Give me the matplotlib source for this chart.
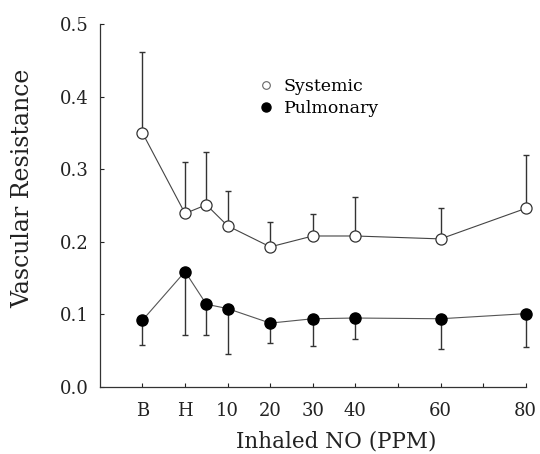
import matplotlib
matplotlib.use('Agg')
import matplotlib.pyplot as plt
from matplotlib.lines import Line2D

plt.rcParams['font.family'] = ['DejaVu Serif']

# x positions: B=-10, H=0, then ppm
x_vals = [-10, 0, 5, 10, 20, 30, 40, 60, 80]
systemic = [0.350, 0.239, 0.251, 0.222, 0.193, 0.208, 0.208, 0.204, 0.246]
systemic_top = [0.461, 0.310, 0.324, 0.270, 0.227, 0.238, 0.262, 0.246, 0.320]
pulmonary = [0.092, 0.159, 0.114, 0.108, 0.088, 0.094, 0.095, 0.094, 0.101]
pulmonary_low = [0.058, 0.072, 0.072, 0.045, 0.061, 0.056, 0.066, 0.053, 0.055]

tick_pos = [-10, 0, 10, 20, 30, 40, 50, 60, 70, 80]
tick_lab = ['B', 'H', '10', '20', '30', '40', '', '60', '', '80']
y_ticks = [0.0, 0.1, 0.2, 0.3, 0.4, 0.5]

fig = plt.figure(figsize=(5.4, 4.54), dpi=100)
ax = fig.add_axes([0.185, 0.1476, 0.7885, 0.7995])

sys_up = [t - v for t, v in zip(systemic_top, systemic)]
pul_dn = [v - b for v, b in zip(pulmonary, pulmonary_low)]

ax.errorbar(x_vals, systemic, yerr=[[0] * len(sys_up), sys_up], fmt='none',
            ecolor='#333333', elinewidth=1.0, capsize=2, capthick=1.0, clip_on=False)
ax.errorbar(x_vals, pulmonary, yerr=[pul_dn, [0] * len(pul_dn)], fmt='none',
            ecolor='#333333', elinewidth=1.0, capsize=2, capthick=1.0, clip_on=False)

ax.plot(x_vals, systemic, '-', color='#444444', lw=0.8, marker='o', ms=8,
        mfc='white', mec='#333333', mew=0.9, clip_on=False, zorder=3)
ax.plot(x_vals, pulmonary, '-', color='#555555', lw=0.8, marker='o', ms=8,
        mfc='black', mec='black', clip_on=False, zorder=3)

ax.set_xlim(-20, 80)
ax.set_ylim(0, 0.5)
ax.set_xticks(tick_pos)
ax.set_xticklabels(tick_lab)
ax.set_yticks(y_ticks)
ax.set_yticklabels(['%.1f' % v for v in y_ticks])
ax.tick_params(direction='in', length=3, width=0.8, labelsize=13, colors='#222222')
ax.tick_params(axis='y', pad=8)
ax.tick_params(axis='x', pad=11)

for s in ['top', 'right']:
    ax.spines[s].set_visible(False)
for s in ['left', 'bottom']:
    ax.spines[s].set_linewidth(0.9)
    ax.spines[s].set_color('#333333')

ax.set_ylabel('Vascular Resistance', fontsize=17, color='#222222')
ax.yaxis.set_label_coords(-0.155, 0.548)
ax.set_xlabel('Inhaled NO (PPM)', fontsize=15.5, color='#222222')
ax.xaxis.label.set_va('baseline')
ax.xaxis.set_label_coords(0.554, -0.168)

handles = [Line2D([], [], ls='none', marker='o', ms=5.5, mfc='white', mec='#666666', mew=0.8),
           Line2D([], [], ls='none', marker='o', ms=6.5, mfc='black', mec='black')]
ax.legend(handles, ['Systemic', 'Pulmonary'], loc='upper left',
          bbox_to_anchor=(0.33, 0.895), frameon=False, fontsize=12.5,
          handletextpad=0.4, handlelength=1.2, labelspacing=0.3)

fig.savefig('out.png', dpi=100)
